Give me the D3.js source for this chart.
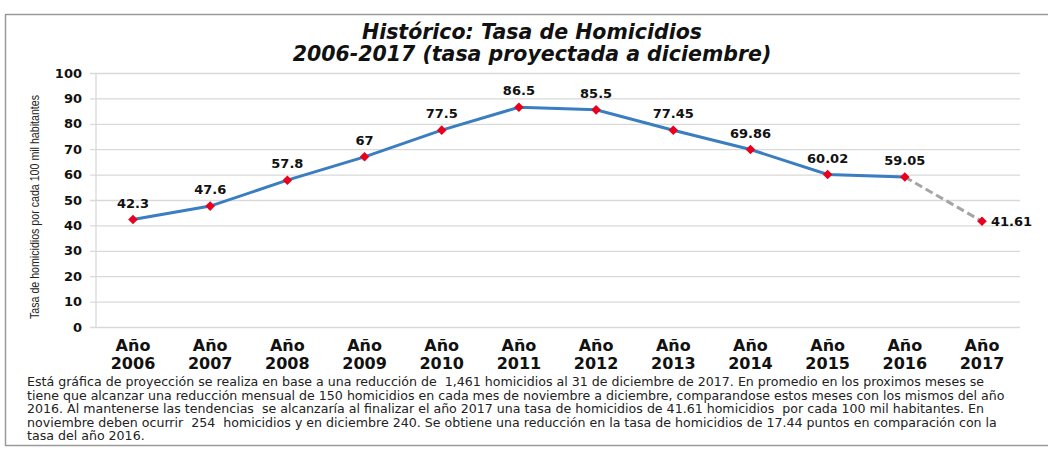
<!DOCTYPE html>
<html>
<head>
<meta charset="utf-8">
<script src="https://cdn.jsdelivr.net/npm/d3@7"></script>
<style>
  body { margin: 0; background: #fff; }
  svg { display: block; }
</style>
</head>
<body>
<svg id="chart" width="1048" height="457"></svg>
<script>
  // data
  var years  = ["2006","2007","2008","2009","2010","2011","2012","2013","2014","2015","2016","2017"];
  var rates  = [42.3, 47.6, 57.8, 67, 77.5, 86.5, 85.5, 77.45, 69.86, 60.02, 59.05, 41.61];
  var labels = ["42.3","47.6","57.8","67","77.5","86.5","85.5","77.45","69.86","60.02","59.05","41.61"];
  var yTicks = [0, 10, 20, 30, 40, 50, 60, 70, 80, 90, 100];
  var titleLines = ["Histórico: Tasa de Homicidios", "2006-2017 (tasa proyectada a diciembre)"];
  var yLabel = "Tasa de homicidios por cada 100 mil habitantes";
  var note = [
    "Está gráfica de proyección se realiza en base a una reducción de  1,461 homicidios al 31 de diciembre de 2017. En promedio en los proximos meses se",
    "tiene que alcanzar una reducción mensual de 150 homicidios en cada mes de noviembre a diciembre, comparandose estos meses con los mismos del año",
    "2016. Al mantenerse las tendencias  se alcanzaría al finalizar el año 2017 una tasa de homicidios de 41.61 homicidios  por cada 100 mil habitantes. En",
    "noviembre deben ocurrir  254  homicidios y en diciembre 240. Se obtiene una reducción en la tasa de homicidios de 17.44 puntos en comparación con la",
    "tasa del año 2016."
  ];

  var svg = d3.select("#chart");
  var font = "DejaVu Sans, Verdana, sans-serif";

  // outer frame
  svg.append("rect").attr("x", 5.5).attr("y", 14.5).attr("width", 1060).attr("height", 431)
     .attr("fill", "none").attr("stroke", "#9a9a9a").attr("stroke-width", 1.5);

  var pLeft = 96, pRight = 1020, pTop = 73, pBottom = 327;
  var x = d3.scalePoint().domain(years).range([133, 982]);
  var y = d3.scaleLinear().domain([0, 100]).range([pBottom, pTop]);

  // title
  svg.append("g").selectAll("text").data(titleLines).enter().append("text")
     .attr("x", 532).attr("y", function(d, i) { return 39 + i * 22; })
     .attr("text-anchor", "middle")
     .style("font-family", font).style("font-size", "20.5px")
     .style("font-weight", "bold").style("font-style", "italic")
     .attr("fill", "#111").text(function(d) { return d; });

  // grid
  var yAxis = d3.axisLeft(y).tickValues(yTicks).tickSize(-(pRight - pLeft) - 6).tickPadding(8);
  var gy = svg.append("g").attr("transform", "translate(" + (pLeft - 6) + ",0)").call(yAxis);
  gy.select(".domain").remove();
  gy.selectAll(".tick line").attr("stroke", "#d9d9d9").attr("stroke-width", 1.3);
  gy.selectAll(".tick text").style("font-family", font).style("font-size", "13px")
     .style("font-weight", "bold").attr("fill", "#111");
  svg.append("line").attr("x1", pLeft).attr("x2", pLeft).attr("y1", pTop).attr("y2", pBottom)
     .attr("stroke", "#d9d9d9").attr("stroke-width", 1.3);

  // y label (condensed)
  svg.append("text")
     .attr("transform", "translate(39," + 207 + ") rotate(-90)")
     .attr("text-anchor", "middle")
     .attr("textLength", 224).attr("lengthAdjust", "spacingAndGlyphs")
     .style("font-family", "Liberation Sans, Arial, sans-serif")
     .style("font-size", "13.5px").attr("fill", "#222").text(yLabel);

  // x labels
  var gx = svg.append("g");
  gx.selectAll("text.a").data(years).enter().append("text")
     .attr("x", function(d) { return x(d); }).attr("y", 351)
     .attr("text-anchor", "middle").style("font-family", font)
     .style("font-size", "16px").style("font-weight", "bold").attr("fill", "#111")
     .text("Año");
  gx.selectAll("text.b").data(years).enter().append("text")
     .attr("x", function(d) { return x(d); }).attr("y", 369)
     .attr("text-anchor", "middle").style("font-family", font)
     .style("font-size", "16px").style("font-weight", "bold").attr("fill", "#111")
     .text(function(d) { return d; });

  // lines
  var line = d3.line().x(function(d) { return x(years[d]); }).y(function(d) { return y(rates[d]); });
  var idxSolid = d3.range(0, 11);
  var idxDash = [10, 11];
  svg.append("path").datum(idxSolid).attr("d", line)
     .attr("fill", "none").attr("stroke", "#3a7dc0").attr("stroke-width", 3);
  svg.append("path").datum(idxDash).attr("d", line)
     .attr("fill", "none").attr("stroke", "#a5a5a5").attr("stroke-width", 3)
     .attr("stroke-dasharray", "8,4");

  // markers
  svg.append("g").selectAll("path").data(rates).enter().append("path")
     .attr("d", d3.symbol().type(d3.symbolSquare).size(46))
     .attr("transform", function(d, i) { return "translate(" + x(years[i]) + "," + y(d) + ") rotate(45)"; })
     .attr("fill", "#e8001c");

  // data labels
  svg.append("g").selectAll("text").data(rates).enter().append("text")
     .attr("x", function(d, i) { return i == 11 ? x(years[i]) + 9 : x(years[i]); })
     .attr("y", function(d, i) { return i == 11 ? y(d) + 5 : y(d) - 12; })
     .attr("text-anchor", function(d, i) { return i == 11 ? "start" : "middle"; })
     .style("font-family", font).style("font-size", "13px").style("font-weight", "bold")
     .attr("fill", "#111").text(function(d, i) { return labels[i]; });

  // footnote
  svg.append("g").selectAll("text").data(note).enter().append("text")
     .attr("x", 27).attr("y", function(d, i) { return 386 + i * 13.6; })
     .style("font-family", font).style("font-size", "12.6px")
     .attr("fill", "#222").attr("xml:space", "preserve")
     .text(function(d) { return d; });
</script>
</body>
</html>
